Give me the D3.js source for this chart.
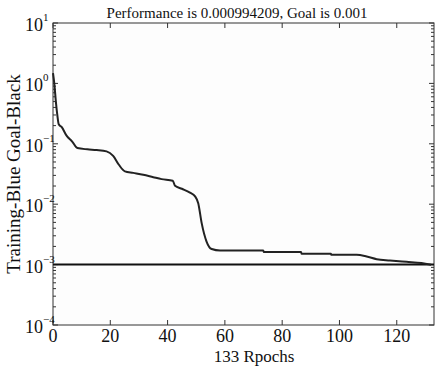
<!DOCTYPE html>
<html>
<head>
<meta charset="utf-8">
<script src="https://cdn.jsdelivr.net/npm/d3@7"></script>
<style>
html,body{margin:0;padding:0;background:#fff;}
svg{display:block;font-family:"Liberation Serif","DejaVu Serif",serif;}
</style>
</head>
<body>
<svg id="chart" width="436" height="368"></svg>
<script>
const epochs = [0, 0.5, 1, 1.5, 2, 3, 4.8, 6.7, 8.5, 12, 15.2, 18.7, 21, 23, 25.1, 28, 31.5, 35, 37.9, 41.8, 42.6, 45, 47.8, 49.6, 50.7, 51.9, 53.6, 55.4, 58.3, 73.4, 73.6, 86.6, 86.8, 97, 97.2, 106, 109.5, 113, 117.6, 123.4, 128.6, 132];
const performance = [1.48, 0.95, 0.5, 0.3, 0.21, 0.19, 0.135, 0.109, 0.085, 0.081, 0.079, 0.075, 0.063, 0.045, 0.035, 0.033, 0.0307, 0.028, 0.026, 0.0245, 0.0202, 0.018, 0.0156, 0.0135, 0.0104, 0.00486, 0.00241, 0.00181, 0.00171, 0.00171, 0.00161, 0.00161, 0.00151, 0.00151, 0.00145, 0.00145, 0.00136, 0.00123, 0.00117, 0.00111, 0.00106, 0.000994209];
const goal = 0.001;
const xTicks = [0, 20, 40, 60, 80, 100, 120];
const yDecades = [1, 0, -1, -2, -3, -4];
const titleText = "Performance is 0.000994209, Goal is 0.001";
const xLabel = "133 Rpochs";
const yLabel = "Training-Blue Goal-Black";

const svg = d3.select("#chart");
const L = 53, R = 434, T = 23, B = 325;
const x = d3.scaleLinear().domain([0, 133]).range([L, R]);
const y = d3.scaleLog().domain([1e-4, 10]).range([B, T]);

// plot background
svg.append("rect").attr("x", L).attr("y", T).attr("width", R - L).attr("height", B - T)
  .attr("fill", "#fdfdfd");

// ticks
const tg = svg.append("g").attr("stroke", "#333").attr("stroke-width", 1);
xTicks.forEach(v => {
  tg.append("line").attr("x1", x(v)).attr("x2", x(v)).attr("y1", B).attr("y2", B - 5);
  tg.append("line").attr("x1", x(v)).attr("x2", x(v)).attr("y1", T).attr("y2", T + 5);
});
const minor = [];
for (let d = -4; d < 1; d++) for (let m = 2; m <= 9; m++) minor.push(m * Math.pow(10, d));
minor.forEach(v => {
  tg.append("line").attr("x1", L).attr("x2", L + 3).attr("y1", y(v)).attr("y2", y(v));
  tg.append("line").attr("x1", R).attr("x2", R - 3).attr("y1", y(v)).attr("y2", y(v));
});
yDecades.forEach(d => {
  const v = Math.pow(10, d);
  tg.append("line").attr("x1", L).attr("x2", L + 5).attr("y1", y(v)).attr("y2", y(v));
  tg.append("line").attr("x1", R).attr("x2", R - 5).attr("y1", y(v)).attr("y2", y(v));
});

// frame
svg.append("rect").attr("x", L).attr("y", T).attr("width", R - L).attr("height", B - T)
  .attr("fill", "none").attr("stroke", "#333").attr("stroke-width", 1);

// goal line
svg.append("line").attr("x1", x(0)).attr("x2", x(133)).attr("y1", y(goal)).attr("y2", y(goal))
  .attr("stroke", "#111").attr("stroke-width", 2);

// performance line
const line = d3.line().x((d, i) => x(epochs[i])).y(d => y(d)).curve(d3.curveMonotoneX);
svg.append("path").datum(performance).attr("d", line)
  .attr("fill", "none").attr("stroke", "#222").attr("stroke-width", 2);

// x tick labels
xTicks.forEach(v => {
  svg.append("text").attr("x", x(v)).attr("y", 342).attr("text-anchor", "middle")
    .attr("font-size", 18).attr("fill", "#111").text(v);
});
// y tick labels
yDecades.forEach(d => {
  const yy = y(Math.pow(10, d));
  svg.append("text").attr("x", 43).attr("y", yy + 8)
    .attr("text-anchor", "end").attr("font-size", 18).attr("fill", "#111").text("10");
  const exp = d < 0 ? "\u2212" + (-d) : String(d);
  svg.append("text").attr("x", 43).attr("y", yy - 2)
    .attr("text-anchor", "start").attr("font-size", 11).attr("fill", "#111").text(exp);
});

// title
svg.append("text").attr("x", 237).attr("y", 18).attr("text-anchor", "middle")
  .attr("font-size", 15).attr("fill", "#111").text(titleText);
// x label
svg.append("text").attr("x", 254).attr("y", 362).attr("text-anchor", "middle")
  .attr("font-size", 17).attr("fill", "#111").text(xLabel);
// y label
svg.append("text").attr("transform", "translate(20,174) rotate(-90)").attr("text-anchor", "middle")
  .attr("font-size", 19).attr("fill", "#111").text(yLabel);
</script>
</body>
</html>
